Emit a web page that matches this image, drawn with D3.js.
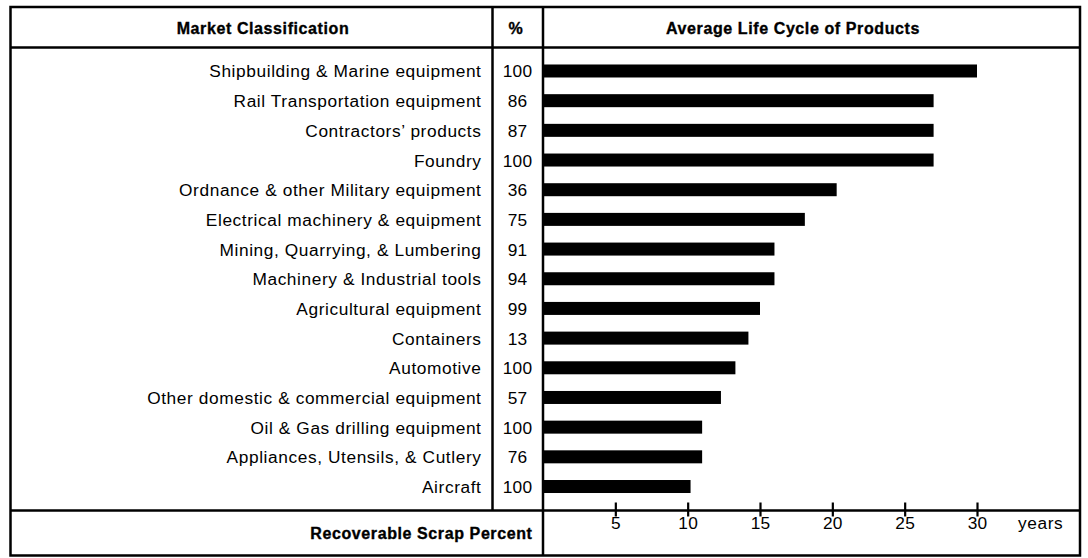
<!DOCTYPE html>
<html>
<head>
<meta charset="utf-8">
<script src="https://cdn.jsdelivr.net/npm/d3@7"></script>
<style>
  html, body { margin: 0; padding: 0; background: #fff; }
  svg { display: block; font-family: "Liberation Sans", Arial, Helvetica, sans-serif; }
</style>
</head>
<body>
<svg id="chart" width="1088" height="558"></svg>
<script>
const categories = [
  "Shipbuilding & Marine equipment",
  "Rail Transportation equipment",
  "Contractors\u2019 products",
  "Foundry",
  "Ordnance & other Military equipment",
  "Electrical machinery & equipment",
  "Mining, Quarrying, & Lumbering",
  "Machinery & Industrial tools",
  "Agricultural equipment",
  "Containers",
  "Automotive",
  "Other domestic & commercial equipment",
  "Oil & Gas drilling equipment",
  "Appliances, Utensils, & Cutlery",
  "Aircraft"
];
const scrapPercent = [100, 86, 87, 100, 36, 75, 91, 94, 99, 13, 100, 57, 100, 76, 100];
const lifeYears = [30, 27, 27, 27, 20.3, 18.1, 16, 16, 15, 14.2, 13.3, 12.3, 11, 11, 10.2];
const tickValues = [5, 10, 15, 20, 25, 30];
const headers = ["Market Classification", "%", "Average Life Cycle of Products"];
const footerLabel = "Recoverable Scrap Percent";
const unitLabel = "years";

const svg = d3.select("#chart");

// frame geometry
const L = 10.5, R = 1080, T = 7, B = 555.5;
const headY = 47.5, footY = 510.5;
const col1 = 492.5, col2 = 543;

const x = d3.scaleLinear().domain([0, 30]).range([col2, 977]);
const y = d3.scaleBand().domain(categories).range([56.65, 501.85]).padding(0);
const barH = 13;

const bodySize = 17.3, bodySpacing = 0.6;
const headSize = 16, headSpacing = 0.6;

// bars
svg.append("g").selectAll("rect")
  .data(categories)
  .join("rect")
  .attr("x", x(0))
  .attr("y", d => y(d) + y.bandwidth() / 2 - barH / 2 - 0.5)
  .attr("width", (d, i) => x(lifeYears[i]) - x(0))
  .attr("height", barH)
  .attr("fill", "#000");

// category labels
svg.append("g").selectAll("text")
  .data(categories)
  .join("text")
  .attr("x", 481.5)
  .attr("y", d => y(d) + y.bandwidth() / 2 + 6)
  .attr("text-anchor", "end")
  .attr("font-size", bodySize)
  .attr("letter-spacing", bodySpacing)
  .attr("fill", "#000")
  .text(d => d);

// percent labels
svg.append("g").selectAll("text")
  .data(categories)
  .join("text")
  .attr("x", 517.5)
  .attr("y", d => y(d) + y.bandwidth() / 2 + 6)
  .attr("text-anchor", "middle")
  .attr("font-size", bodySize)
  .attr("letter-spacing", 0.2)
  .attr("fill", "#000")
  .text((d, i) => scrapPercent[i]);

// frame lines
const lines = svg.append("g").attr("stroke", "#000").attr("stroke-width", 2.5).attr("fill", "none");
lines.append("rect").attr("x", L).attr("y", T).attr("width", R - L).attr("height", B - T);
lines.append("line").attr("x1", L).attr("x2", R).attr("y1", headY).attr("y2", headY);
lines.append("line").attr("x1", L).attr("x2", R).attr("y1", footY).attr("y2", footY);
lines.append("line").attr("x1", col1).attr("x2", col1).attr("y1", T).attr("y2", footY);
lines.append("line").attr("x1", col2).attr("x2", col2).attr("y1", T).attr("y2", B);

// axis
const axis = svg.append("g")
  .attr("transform", `translate(0,${footY})`)
  .call(d3.axisBottom(x).tickValues(tickValues).tickSize(0).tickPadding(0));
axis.select(".domain").remove();
axis.selectAll(".tick line")
  .attr("y1", -8).attr("y2", 6)
  .attr("stroke", "#000").attr("stroke-width", 2.2);
axis.selectAll(".tick text")
  .attr("y", 18)
  .attr("dy", 0)
  .attr("font-size", bodySize)
  .attr("letter-spacing", 0.2)
  .attr("font-family", "Liberation Sans, Arial, sans-serif")
  .attr("fill", "#000");

svg.append("text")
  .attr("x", 1018).attr("y", footY + 18)
  .attr("font-size", bodySize)
  .attr("letter-spacing", bodySpacing)
  .attr("fill", "#000")
  .text(unitLabel);

// headers
const hx = [263, 516, 793];
svg.append("g").selectAll("text")
  .data(headers)
  .join("text")
  .attr("x", (d, i) => hx[i])
  .attr("y", 34)
  .attr("text-anchor", "middle")
  .attr("font-size", headSize)
  .attr("letter-spacing", headSpacing)
  .attr("font-weight", "bold")
  .attr("stroke", "#000")
  .attr("stroke-width", 0.35)
  .attr("fill", "#000")
  .text(d => d);

svg.append("text")
  .attr("x", 532.5).attr("y", 538.5)
  .attr("text-anchor", "end")
  .attr("font-size", headSize)
  .attr("letter-spacing", headSpacing)
  .attr("font-weight", "bold")
  .attr("stroke", "#000")
  .attr("stroke-width", 0.35)
  .attr("fill", "#000")
  .text(footerLabel);
</script>
</body>
</html>
